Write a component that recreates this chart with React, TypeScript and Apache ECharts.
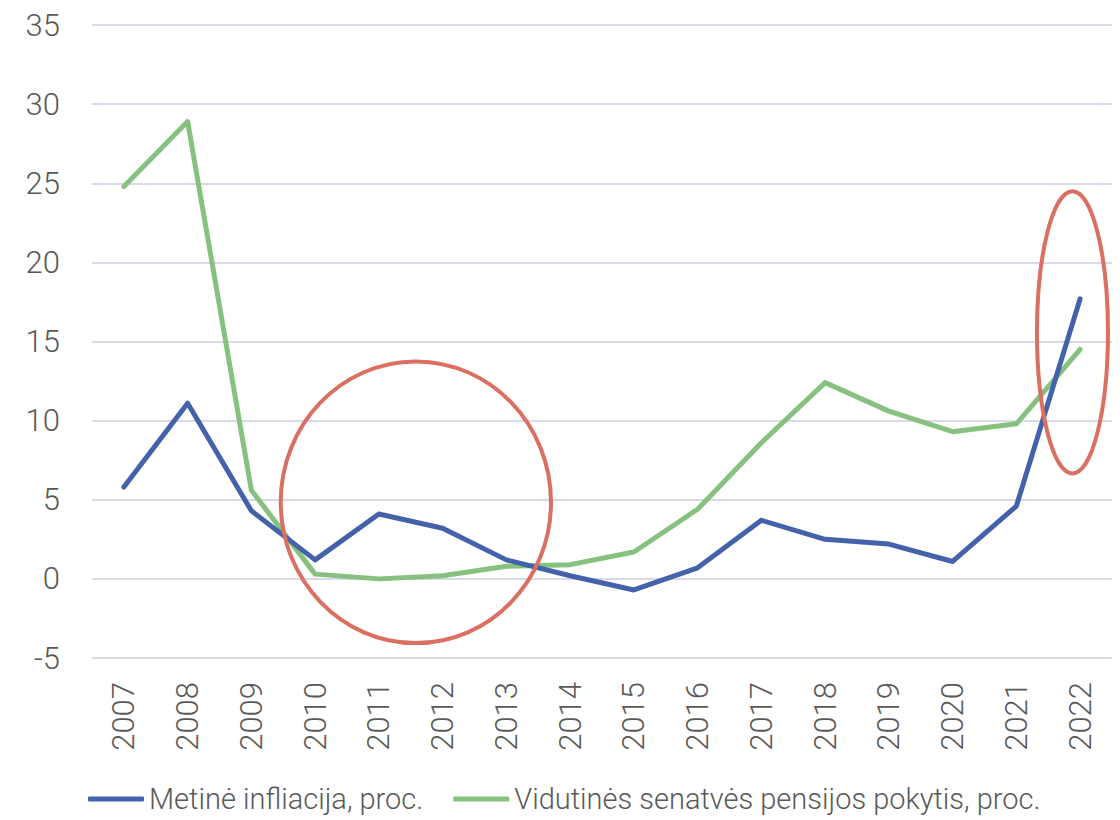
import React, { useEffect, useRef } from "react";
import * as echarts from "echarts";

const years = ["2007","2008","2009","2010","2011","2012","2013","2014","2015","2016","2017","2018","2019","2020","2021","2022"];
const inflation = [5.8, 11.1, 4.3, 1.2, 4.1, 3.2, 1.2, 0.2, -0.7, 0.7, 3.7, 2.5, 2.2, 1.1, 4.6, 17.7];
const pension = [24.8, 28.9, 5.6, 0.3, 0.0, 0.2, 0.8, 0.9, 1.7, 4.4, 8.6, 12.4, 10.6, 9.3, 9.8, 14.5];
const seriesNames = ["Metinė infliacija, proc.", "Vidutinės senatvės pensijos pokytis, proc."];
// annotation ellipses in data coordinates: [category index center, value center, half-width in bands, half-height in value units]
const ellipseCenterIdx = [4.58, 14.88];
const ellipseCenterVal = [4.84, 15.58];
const ellipseHalfBands = [2.12, 0.557];
const ellipseHalfVals = [8.9, 8.92];

const FONT = "Roboto";
const TXT = "#595959";

export default function App() {
  const ref = useRef<HTMLDivElement>(null);
  useEffect(() => {
    document.body.style.margin = "0";
    const chart = echarts.init(ref.current!, null, { renderer: "svg" });
    chart.setOption({
      animation: false,
      backgroundColor: "#ffffff",
      textStyle: { fontFamily: FONT },
      grid: { left: 92, right: 8, top: 25, bottom: 162, containLabel: false },
      xAxis: {
        type: "category",
        data: years,
        boundaryGap: true,
        axisLine: { show: false },
        axisTick: { show: false },
        axisLabel: { rotate: 90, margin: 24, fontSize: 31, color: TXT, fontFamily: FONT, fontWeight: 300, interval: 0 },
        splitLine: { show: false },
      },
      yAxis: {
        type: "value",
        min: -5,
        max: 35,
        interval: 5,
        axisLine: { show: false },
        axisTick: { show: false },
        axisLabel: { margin: 32, fontSize: 31, color: TXT, fontFamily: FONT, fontWeight: 300 },
        splitLine: { lineStyle: { color: "#D9D9E8", width: 2 } },
      },
      legend: {
        left: 88,
        top: 784,
        padding: 0,
        itemGap: 30,
        itemWidth: 56,
        itemHeight: 5,
        icon: "roundRect",
        textStyle: { fontSize: 29, color: TXT, fontFamily: FONT, fontWeight: 300, lineHeight: 30 },
        data: seriesNames,
      },
      series: [
        {
          name: seriesNames[0],
          type: "line",
          data: inflation,
          symbol: "none",
          color: "#4462AA",
          lineStyle: { width: 5, color: "#4462AA", cap: "round", join: "round" },
          z: 3,
        },
        {
          name: seriesNames[1],
          type: "line",
          data: pension,
          symbol: "none",
          color: "#86C17F",
          lineStyle: { width: 5, color: "#86C17F", cap: "round", join: "round" },
          z: 2,
        },
      ],
    });

    const graphics: any[] = [];
    for (let i = 0; i < ellipseCenterIdx.length; i++) {
      const c0 = chart.convertToPixel({ gridIndex: 0 }, [0, ellipseCenterVal[i]]) as number[];
      const c1 = chart.convertToPixel({ gridIndex: 0 }, [1, ellipseCenterVal[i] + ellipseHalfVals[i]]) as number[];
      const band = c1[0] - c0[0];
      const cx = c0[0] + band * ellipseCenterIdx[i];
      const cy = c0[1];
      const ry = c0[1] - c1[1];
      const rx = band * ellipseHalfBands[i];
      graphics.push({
        type: "ellipse",
        shape: { cx, cy, rx, ry },
        style: { fill: "none", stroke: "#DB6F62", lineWidth: 4 },
        z: 10,
      });
    }
    chart.setOption({ graphic: graphics });

    return () => chart.dispose();
  }, []);
  return <div ref={ref} style={{ width: 1120, height: 820 }} />;
}
